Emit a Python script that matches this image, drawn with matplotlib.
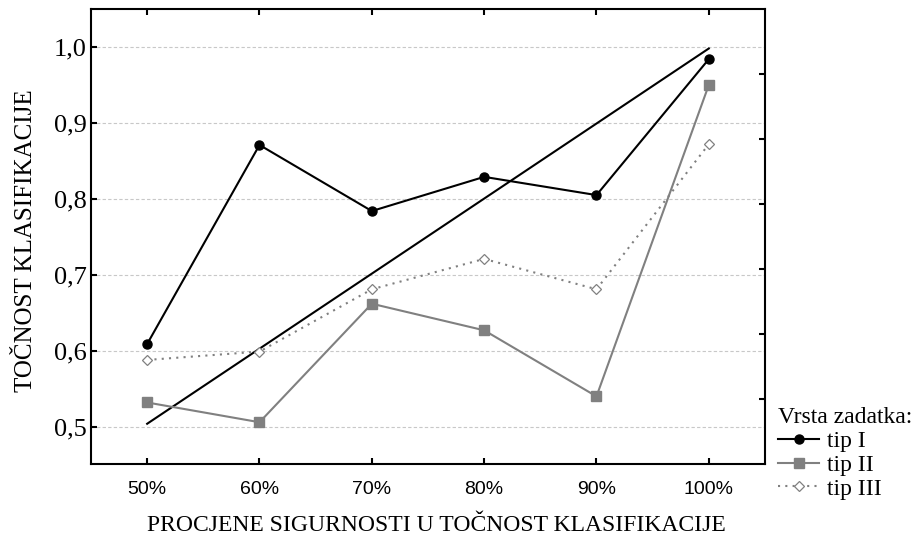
import numpy as np
import matplotlib
matplotlib.use("Agg")
import matplotlib.pyplot as plt

# data
categories = ["50%", "60%", "70%", "80%", "90%", "100%"]
tip_1 = [0.609, 0.871, 0.784, 0.829, 0.805, 0.984]
tip_2 = [0.532, 0.506, 0.662, 0.627, 0.540, 0.950]
tip_3 = [0.588, 0.599, 0.681, 0.721, 0.681, 0.872]
diag_x = [0, 5]
diag_y = [0.504, 0.998]
y_ticks = [0.5, 0.6, 0.7, 0.8, 0.9, 1.0]
y_labels = ["0,5", "0,6", "0,7", "0,8", "0,9", "1,0"]
right_ticks = [0.537, 0.622, 0.708, 0.793, 0.879, 0.9645]

serif = "Liberation Serif"
sans = "Liberation Sans"

fig = plt.figure(figsize=(9.21, 5.41), dpi=100)
ax = fig.add_axes([0.0988, 0.1423, 0.7318, 0.8411])

x = np.arange(len(categories))
ax.plot(diag_x, diag_y, color="black", lw=1.5, zorder=3)
l1, = ax.plot(x, tip_1, color="black", lw=1.5, marker="o", ms=6.5, zorder=4, label="tip I")
l2, = ax.plot(x, tip_2, color="#808080", lw=1.5, marker="s", ms=7, zorder=4, label="tip II")
l3, = ax.plot(x, tip_3, color="#808080", lw=1.5, ls=(0, (1, 2.5)), marker="D", ms=5.5,
              mfc="white", mec="#808080", mew=0.9, zorder=4, label="tip III")

ax.set_xlim(-0.5, 5.5)
ax.set_ylim(0.451, 1.05)
ax.set_xticks(x)
ax.set_xticklabels(categories, fontfamily=sans, fontsize=14)
ax.set_yticks(y_ticks)
ax.set_yticklabels(y_labels, fontfamily=serif, fontsize=19)
ax.grid(axis="y", color="#c8c8c8", ls=(0, (3, 2)), lw=0.8)
ax.set_axisbelow(True)
ax.tick_params(direction="in", length=4, width=1.5, top=True)
ax.tick_params(axis="x", pad=12)
ax.tick_params(axis="y", pad=3)
for s in ax.spines.values():
    s.set_linewidth(1.5)

ax2 = ax.twinx()
ax2.set_ylim(ax.get_ylim())
ax2.set_yticks(right_ticks)
ax2.set_yticklabels([])
ax2.tick_params(direction="in", length=4, width=1.5)
for s in ax2.spines.values():
    s.set_visible(False)

ax.set_xlabel("PROCJENE SIGURNOSTI U TOČNOST KLASIFIKACIJE", fontfamily=serif, fontsize=17)
ax.xaxis.set_label_coords(0.512, -0.113)
ax.set_ylabel("TOČNOST KLASIFIKACIJE", fontfamily=serif, fontsize=18)
ax.yaxis.set_label_coords(-0.080, 0.49)

leg = fig.legend(handles=[l1, l2, l3], title="Vrsta zadatka:", loc="upper left",
                 bbox_to_anchor=(0.835, 0.265), frameon=False,
                 prop={"family": serif, "size": 17}, handlelength=1.7,
                 handletextpad=0.35, labelspacing=0.1, borderaxespad=0)
leg.get_title().set_fontfamily(serif)
leg.get_title().set_fontsize(17)
leg._legend_box.align = "left"

fig.savefig("out.png", dpi=100)
